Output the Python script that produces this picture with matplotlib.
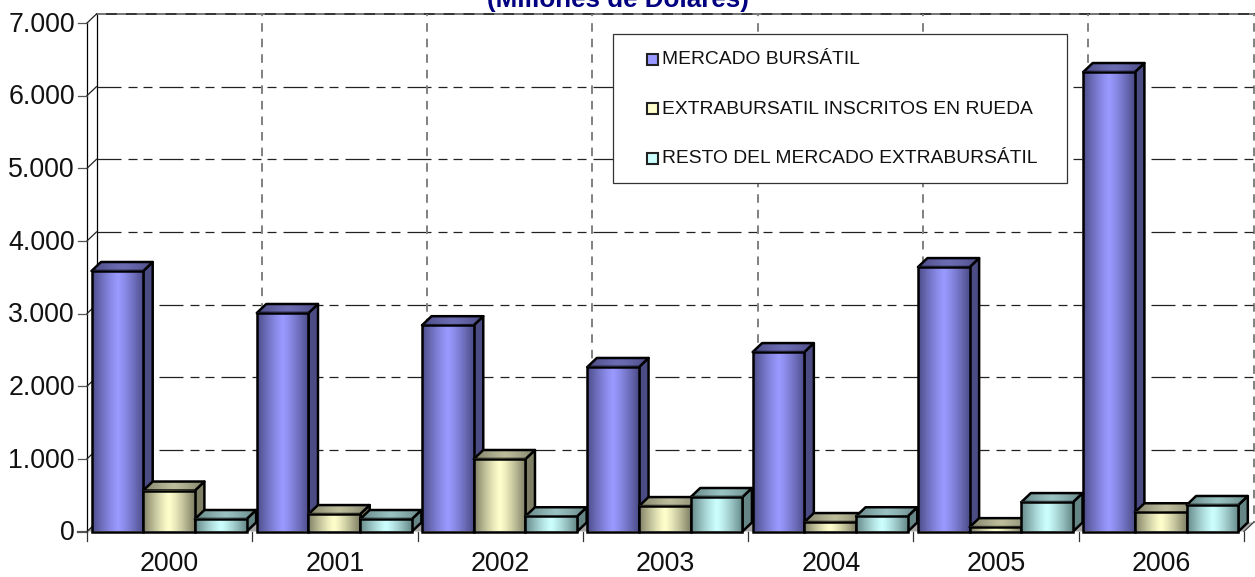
import numpy as np
import matplotlib
matplotlib.use('Agg')
import matplotlib.pyplot as plt
from matplotlib.patches import Polygon, Rectangle

plt.rcParams['font.family'] = ['Liberation Sans', 'DejaVu Sans']

years = ['2000', '2001', '2002', '2003', '2004', '2005', '2006']
bursatil = [3586, 3008, 2840, 2265, 2470, 3640, 6325]
inscritos = [564, 240, 998, 350, 130, 60, 265]
resto = [172, 172, 210, 475, 210, 405, 365]
names = ['MERCADO BURSÁTIL', 'EXTRABURSATIL INSCRITOS EN RUEDA', 'RESTO DEL MERCADO EXTRABURSÁTIL']
y_ticks = [0, 1000, 2000, 3000, 4000, 5000, 6000, 7000]
y_labels = ['0', '1.000', '2.000', '3.000', '4.000', '5.000', '6.000', '7.000']

# front, edge, side, top, top edge colours of each series
colours = [('#9999FF', '#4C4C88', '#4C4C85', '#6C6CB4', '#4C4C85'),
           ('#FFFFCC', '#808066', '#7F7F66', '#BDBD9C', '#80806A'),
           ('#CCFFFF', '#668888', '#668585', '#99C2C2', '#668585')]

W, H = 1255, 577
fig = plt.figure(figsize=(W / 100, H / 100), dpi=100)
ax = fig.add_axes([87 / W, 1 - 531.5 / H, 1157 / W, 508.5 / H])
ax.set_axis_off()

# overlay in pixels for the pieces that are not data
over = fig.add_axes([0, 0, 1, 1], zorder=5)
over.set_xlim(0, W)
over.set_ylim(H, 0)
over.set_axis_off()
over.patch.set_alpha(0)

dx = 9.5 / (1157 / 7)
dy = 9 / 508.5 * 7000
bar_w = 51.7 / (1157 / 7)
lead = 4.5 / (1157 / 7)

grid_h = (0, (19.2, 5.6, 7.2, 4.8, 7.2, 5.6))
grid_v = (3.3, (4.4, 3.6))
lw = 0.9
edge_lw = 1.8

# walls and floor
ax.add_patch(Polygon([(0, 0), (7, 0), (7 + dx, dy), (dx, dy)], fc='#A6A6A6', ec='none', zorder=1, clip_on=False))
ax.plot([0, 0], [0, 7000], color='black', lw=lw, zorder=2, clip_on=False)
ax.plot([dx, dx], [dy, 7000 + dy], color='black', lw=lw, zorder=2, clip_on=False)
ax.plot([dx, 7 + dx], [7000 + dy, 7000 + dy], color='#222222', lw=1.3, zorder=2, clip_on=False)
ax.plot([dx, 7 + dx], [7000 + dy, 7000 + dy], color='#808080', lw=1.3, ls=(0, (5, 6)), zorder=2, clip_on=False)
ax.plot([7 + dx, 7 + dx], [7000 + dy, dy], color='#808080', lw=1.4, ls=grid_v, zorder=2, clip_on=False)
ax.plot([7, 7 + dx], [0, dy], color='#444444', lw=lw, zorder=2, clip_on=False)
for t in y_ticks:
    ax.plot([-9.5 / (1157 / 7), 0], [t, t], color='#555555', lw=lw if t else 1.6, zorder=2, clip_on=False)
    ax.plot([0, dx], [t, t + dy], color='#222222', lw=lw, zorder=2, clip_on=False)
    if 0 < t < 7000:
        ax.plot([dx, 7 + dx], [t + dy, t + dy], color='#222222', lw=lw, ls=grid_h, zorder=2, clip_on=False)
    ax.text(-12 / (1157 / 7), t - 25, y_labels[y_ticks.index(t)], ha='right', va='center', fontsize=19.3,
            color='#111111', clip_on=False)
for i in range(1, 7):
    ax.plot([i + dx, i + dx], [7000 + dy, dy], color='#808080', lw=1.4, ls=grid_v, zorder=2, clip_on=False)
for i in range(8):
    ax.plot([i, i], [0, -9 / 508.5 * 7000], color='#333333', lw=lw, zorder=2, clip_on=False)
for i, y in enumerate(years):
    ax.text(i + 0.5, -445, y, ha='center', va='center', fontsize=19.3, color='#111111', clip_on=False)


def shade(front, edge):
    a = np.array(matplotlib.colors.to_rgb(edge))
    b = np.array(matplotlib.colors.to_rgb(front))
    t = 1 - np.abs(np.linspace(-1, 1, 64)) ** 1.25
    return (a + (b - a) * t[:, None])[None, :, :]


z = 3
for j, vals in enumerate([bursatil, inscritos, resto]):
    front, edge, side, top, top_edge = colours[j]
    for i, v in enumerate(vals):
        x0 = i + lead + j * bar_w
        x1 = x0 + bar_w
        lev = z + i * 3 + j * 0.5
        # side face
        ax.add_patch(Polygon([(x1, 0), (x1 + dx, dy), (x1 + dx, v + dy), (x1, v)], fc=side, ec='black',
                             lw=edge_lw, zorder=lev, joinstyle='round', clip_on=False))
        # top face, shaded and then outlined
        pts = [(x0, v), (x1, v), (x1 + dx, v + dy), (x0 + dx, v + dy)]
        tp = Polygon(pts, fc='none', ec='none', transform=ax.transData)
        ax.add_patch(tp)
        im = ax.imshow(shade(top, top_edge), extent=(x0, x1 + dx, v, v + dy), aspect='auto', zorder=lev,
                       interpolation='bilinear', clip_on=True)
        im.set_clip_path(tp)
        ax.add_patch(Polygon(pts, fc='none', ec='black', lw=edge_lw, zorder=lev + 0.05, joinstyle='round',
                             clip_on=False))
        # front face
        ax.imshow(shade(front, edge), extent=(x0, x1, 0, v), aspect='auto', zorder=lev + 0.1,
                  interpolation='bilinear', clip_on=False)
        ax.add_patch(Rectangle((x0, 0), bar_w, v, fc='none', ec='black', lw=edge_lw, zorder=lev + 0.2,
                               clip_on=False))

ax.set_xlim(0, 7)
ax.set_ylim(0, 7000)

# title, cut by the top of the picture as in the source
over.text(618, 0, '(Millones de Dolares)', ha='center', va='center', fontsize=18.7, fontweight='bold',
          color='#000080')

# legend box
over.add_patch(Rectangle((613, 34), 454, 149, fc='white', ec='#333333', lw=0.9))
for j, name in enumerate(names):
    yy = 59 + j * 49.5
    over.add_patch(Rectangle((646.5, yy - 5.5), 11, 11, fc=colours[j][0], ec='#222222', lw=1.5))
    over.text(662, yy + 0.5, name, ha='left', va='center', fontsize=13.9, color='#111111')

fig.savefig('out.png', dpi=100)
